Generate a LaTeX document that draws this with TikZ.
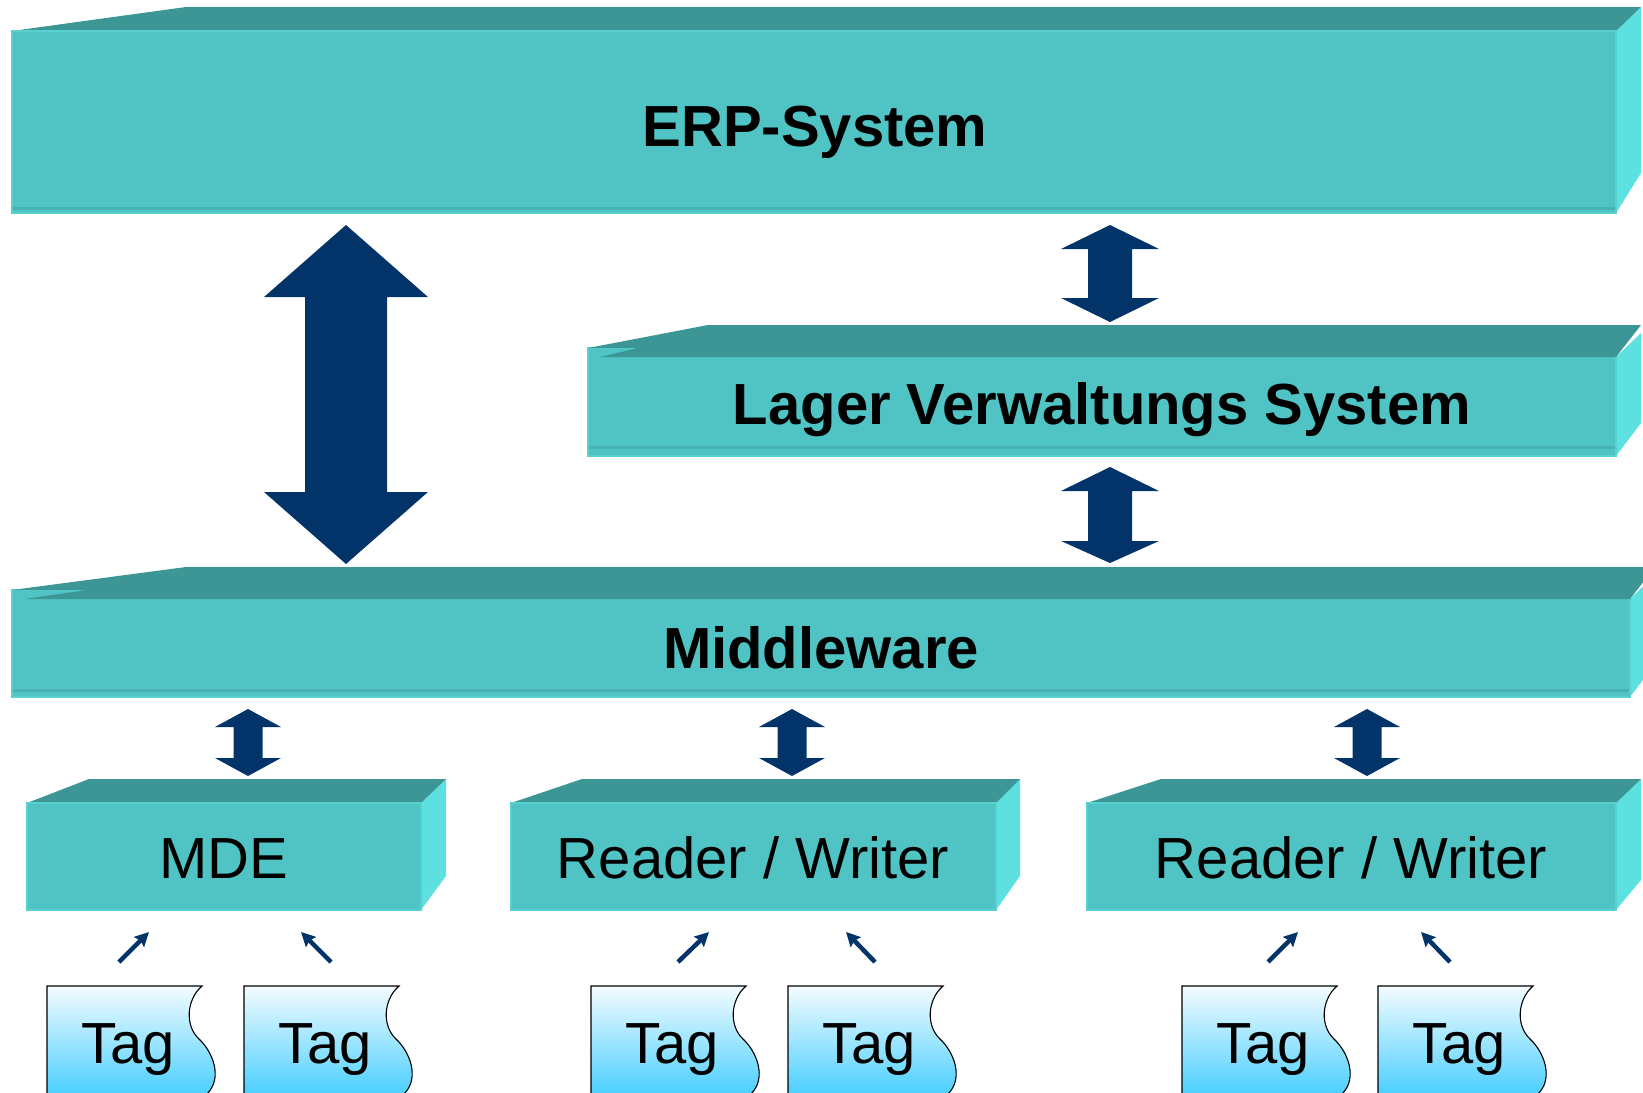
\documentclass[tikz,border=0pt]{standalone}
\usepackage{fontspec}
\setmainfont{Liberation Sans}
\usetikzlibrary{arrows.meta}
\definecolor{frontc}{HTML}{50C4C4}
\definecolor{topc}{HTML}{3D9696}
\definecolor{sidec}{HTML}{5CE0E0}
\definecolor{edgec}{HTML}{58D0D0}
\definecolor{stripc}{HTML}{46B2B2}
\definecolor{navy}{HTML}{02346A}
\definecolor{tagtop}{HTML}{F4FCFF}
\definecolor{tagbot}{HTML}{30C8FF}
\newcommand\DArrow[8]{% name, cx, ytop, yhead1, yhead2, ybot, halfhead, halfshaft
  \fill[navy] (#2,#3) coordinate (#1-top) -- (#2+#7,#4) -- (#2+#8,#4) -- (#2+#8,#5) -- (#2+#7,#5)
    -- (#2,#6) coordinate (#1-bot) -- (#2-#7,#5) -- (#2-#8,#5) -- (#2-#8,#4) -- (#2-#7,#4) -- cycle;}
\newcommand\TagShape[2]{% left, name
  \path[tagshape] (#1,986) -- (#1+155,986)
    .. controls (#1+139,1000) and (#1+138,1026) .. (#1+152,1039)
    .. controls (#1+166,1052) and (#1+176,1078) .. (#1+160,1094)
    -- (#1+150,1112) -- (#1,1112) -- cycle;
  \node[taglbl] (#2) at (#1+34,1063) {Tag};}
\begin{document}
\begin{tikzpicture}[x=1pt,y=-1pt,
  frontface/.style={fill=frontc,draw=edgec,line width=1.2pt},
  topface/.style={fill=topc},
  sideface/.style={fill=sidec},
  stripe/.style={fill=stripc},
  boldlbl/.style={font=\bfseries\fontsize{58}{60}\selectfont,anchor=base,inner sep=0pt},
  lbl/.style={font=\fontsize{58}{60}\selectfont,anchor=base,inner sep=0pt},
  taglbl/.style={font=\fontsize{58}{60}\selectfont,anchor=base west,inner sep=0pt},
  tagshape/.style={top color=tagtop,bottom color=tagbot,draw=black,line width=1.1pt},
  tagarrow/.style={draw=navy,line width=4.5pt,-{Stealth[length=14pt,width=14pt,inset=2pt]}}]
\useasboundingbox (0,0) rectangle (1643,1092);
\clip (0,0) rectangle (1643,1092);
\fill[white] (0,0) rectangle (1643,1092);

% ERP-System
\fill[sideface] (1616,31) -- (1641,7) -- (1641,173) -- (1616,213) -- cycle;
\fill[topface] (12,31) -- (186,7) -- (1641,7) -- (1616,31) -- cycle;
\path[frontface] (12,31) rectangle (1616,213);
\fill[stripe] (13,207) rectangle (1615,210);
\node[boldlbl] (erp) at (815,146) {ERP-System};

% Lager Verwaltungs System
\fill[sideface] (1616,357) -- (1641,333) -- (1641,423) -- (1616,456) -- cycle;
\path[frontface] (588,348) rectangle (1616,456);
\fill[topface] (588,348) -- (708,325) -- (1641,325) -- (1616,357) -- (600,357) -- (638,348) -- cycle;
\fill[stripe] (589,446) rectangle (1615,449);
\node[boldlbl] (lvs) at (1102,424) {Lager Verwaltungs System};

% Middleware
\fill[sideface] (1630,599) -- (1655,575) -- (1655,664) -- (1630,697) -- cycle;
\path[frontface] (12,590) rectangle (1630,697);
\fill[topface] (12,590) -- (186,567) -- (1655,567) -- (1630,599) -- (25,599) -- (87,590) -- cycle;
\fill[stripe] (13,689) rectangle (1629,692);
\node[boldlbl] (mw) at (821,668) {Middleware};

% MDE
\fill[sideface] (421,803) -- (446,779) -- (446,876) -- (421,910) -- cycle;
\fill[topface] (27,803) -- (89,779) -- (446,779) -- (421,803) -- cycle;
\path[frontface] (27,803) rectangle (421,910);
\node[lbl] (mde) at (224,878) {MDE};

% Reader / Writer (middle)
\fill[sideface] (996,803) -- (1020,779) -- (1020,876) -- (996,910) -- cycle;
\fill[topface] (511,803) -- (582,779) -- (1020,779) -- (996,803) -- cycle;
\path[frontface] (511,803) rectangle (996,910);
\node[lbl] (rw1) at (753,878) {Reader / Writer};

% Reader / Writer (right)
\fill[sideface] (1616,803) -- (1641,779) -- (1641,880) -- (1616,910) -- cycle;
\fill[topface] (1087,803) -- (1161,779) -- (1641,779) -- (1616,803) -- cycle;
\path[frontface] (1087,803) rectangle (1616,910);
\node[lbl] (rw2) at (1351,878) {Reader / Writer};

% block double arrows
\DArrow{big}{346}{225}{297}{492}{564}{82}{41}
\DArrow{el}{1110}{225}{249}{298}{322}{49}{22}
\DArrow{lm}{1110}{467}{491}{541}{563}{49}{22}
\DArrow{m1}{248}{709}{727}{758}{776}{33}{14.5}
\DArrow{m2}{792}{709}{727}{758}{776}{33}{14.5}
\DArrow{m3}{1367}{709}{727}{758}{776}{33}{14.5}

% tags
\TagShape{47}{t1}
\TagShape{244}{t2}
\TagShape{591}{t3}
\TagShape{788}{t4}
\TagShape{1182}{t5}
\TagShape{1378}{t6}

% small arrows
\coordinate (a1s) at (119,962);  \coordinate (a1e) at (149,932);
\coordinate (a2s) at (331,962);  \coordinate (a2e) at (301,932);
\coordinate (a3s) at (678,962);  \coordinate (a3e) at (709,932);
\coordinate (a4s) at (875,962);  \coordinate (a4e) at (846,932);
\coordinate (a5s) at (1268,962); \coordinate (a5e) at (1298,932);
\coordinate (a6s) at (1450,962); \coordinate (a6e) at (1421,932);
\foreach \i in {1,...,6} {\draw[tagarrow] (a\i s) -- (a\i e);}
\end{tikzpicture}
\end{document}
